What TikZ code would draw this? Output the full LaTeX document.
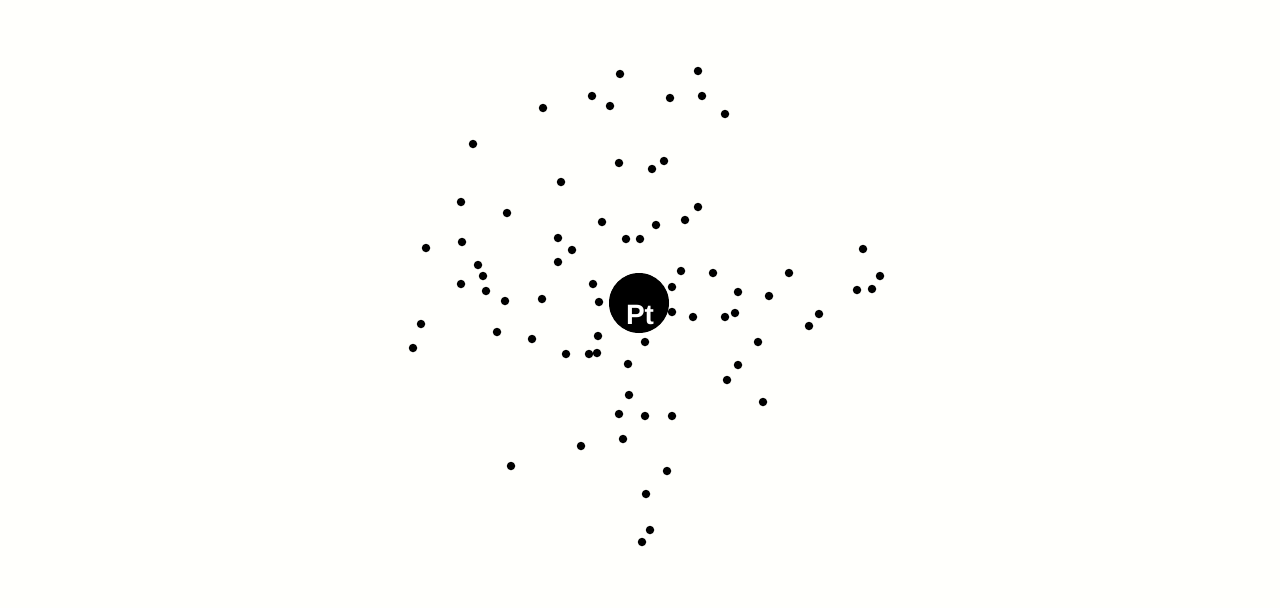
\documentclass[tikz,border=0pt]{standalone}
\usepackage{fontspec}
\setmainfont{Liberation Sans}
\definecolor{bgc}{RGB}{255,255,252}
\tikzset{
  dot/.style={circle,fill=black,inner sep=0pt,minimum size=8.5pt},
  atom/.style={circle,fill=black,inner sep=0pt,minimum size=60pt},
  atomlabel/.style={text=white,font=\fontsize{28}{28}\selectfont\bfseries,inner sep=0pt,anchor=base}
}
\begin{document}
\begin{tikzpicture}[x=1pt,y=-1pt]
\fill[bgc] (0,0) rectangle (1280,608);
\useasboundingbox (0,0) rectangle (1280,608);
\foreach \px/\py [count=\i] in {
620/74, 698/71, 592/96, 610/106, 543/108, 670/98, 702/96, 725/114,
473/144, 619/163, 652/169, 664/161, 561/182,
461/202, 507/213, 602/222, 656/225, 685/220, 698/207,
426/248, 462/242, 558/238, 572/250, 626/239, 640/239, 558/262,
478/265, 483/276, 461/284, 486/291, 505/301, 542/299, 593/284, 599/302,
681/271, 713/273, 789/273, 863/249, 880/276, 857/290, 872/289,
672/287, 738/292, 769/296, 672/312, 693/317, 725/317, 735/313, 819/314, 809/326,
421/324, 413/348, 497/332, 532/339, 598/336, 645/342,
566/354, 589/354, 597/353, 758/342, 628/364, 738/365, 727/380,
629/395, 763/402, 619/414, 645/416, 672/416, 623/439, 581/446, 511/466,
667/471, 646/494, 650/530, 642/542}
  \node[dot] (d\i) at (\px,\py) {};
\node[atom] (pt) at (639,303) {};
\node[atomlabel] (ptl) at (640,324) {Pt};
\end{tikzpicture}
\end{document}
